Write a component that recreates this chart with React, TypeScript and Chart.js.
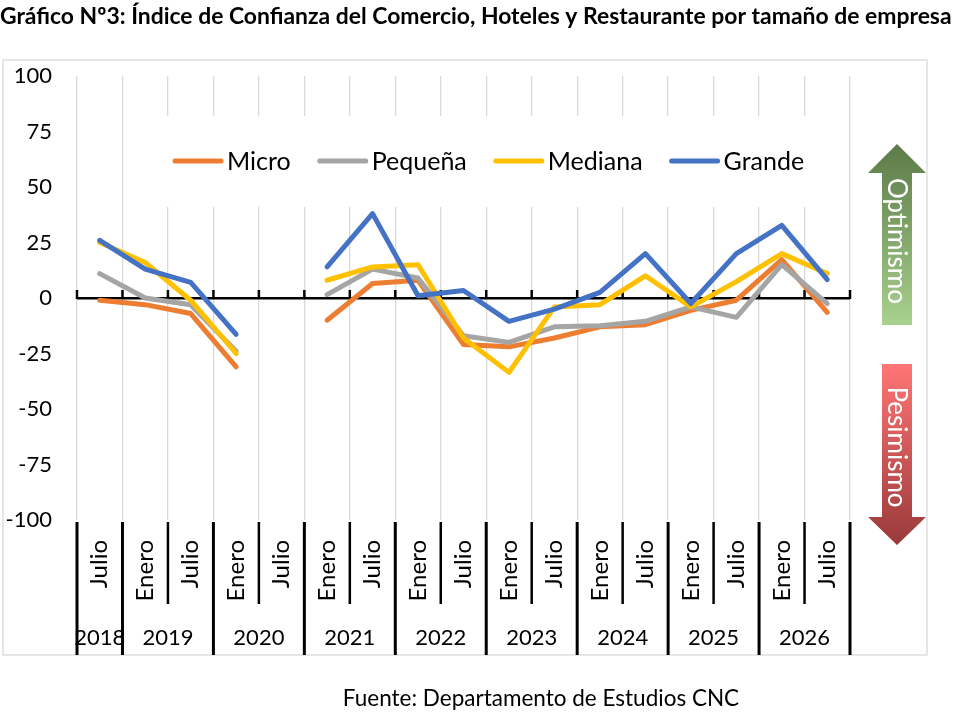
import { useEffect, useRef } from 'react'
import { Chart, registerables, Plugin } from 'chart.js'

Chart.register(...registerables)

const titulo = 'Gráfico Nº3: Índice de Confianza del Comercio, Hoteles y Restaurante por tamaño de empresa'
const fuente = 'Fuente: Departamento de Estudios CNC'

const meses = ['Julio', 'Enero', 'Julio', 'Enero', 'Julio', 'Enero', 'Julio', 'Enero', 'Julio',
  'Enero', 'Julio', 'Enero', 'Julio', 'Enero', 'Julio', 'Enero', 'Julio']
const anios = ['2018', '2019', '2019', '2020', '2020', '2021', '2021', '2022', '2022',
  '2023', '2023', '2024', '2024', '2025', '2025', '2026', '2026']

const micro = [-1, -3, -7, -31, null, -10, 6.5, 8, -21, -22, -18, -13, -12, -5.6, -1, 17.3, -6.5]
const pequena = [11, 0, -3, -24, null, 1.5, 13, 9, -17, -20, -13, -12.5, -10.5, -4, -8.7, 15, -2.5]
const mediana = [25, 16, -1, -25, null, 8, 14, 15, -18, -33.5, -4, -3, 10, -4, 7.4, 20, 11]
const grande = [26, 13, 7, -16.4, null, 14, 38, 1, 3.4, -10.5, -5, 2.5, 20, -2.5, 20, 32.7, 8.3]

const nombres = ['Micro', 'Pequeña', 'Mediana', 'Grande']
const colores = ['#ED7D31', '#A5A5A5', '#FFC000', '#4472C4']
const series = [micro, pequena, mediana, grande]

const FONT = 'Lato, "Open Sans", sans-serif'

// title, source, frame, legend, arrows and the two-level category axis
const decoracion: Plugin<'line'> = {
  id: 'decoracion',
  beforeDatasetsDraw(chart) {
    const { ctx, chartArea, scales } = chart
    const x = scales.x
    const y = scales.y
    const y0 = y.getPixelForValue(0)
    const half = (x.getPixelForValue(1) - x.getPixelForValue(0)) / 2

    // small ticks on the zero line
    ctx.save()
    ctx.strokeStyle = '#000'
    ctx.lineWidth = 2.5
    for (let i = 0; i <= meses.length; i++) {
      const px = x.getPixelForValue(0) - half + i * half * 2
      ctx.beginPath()
      ctx.moveTo(px, y0 + 1)
      ctx.lineTo(px, y0 - 8)
      ctx.stroke()
    }

    // legend inside the plot
    ctx.font = `25px ${FONT}`
    const widths = nombres.map((n) => ctx.measureText(n).width)
    const total = widths.reduce((a, b) => a + b, 0) + nombres.length * 54 + (nombres.length - 1) * 27
    const startX = chartArea.left + 96
    const ly = chartArea.top + 85
    ctx.fillStyle = '#fff'
    ctx.fillRect(startX - 22, chartArea.top + 40, total + 44, 91)
    let cx = startX
    ctx.textBaseline = 'middle'
    ctx.lineCap = 'round'
    nombres.forEach((n, i) => {
      ctx.strokeStyle = colores[i]
      ctx.lineWidth = 5
      ctx.beginPath()
      ctx.moveTo(cx + 2, ly)
      ctx.lineTo(cx + 48, ly)
      ctx.stroke()
      ctx.fillStyle = '#000'
      ctx.fillText(n, cx + 54, ly + 1)
      cx += 54 + widths[i] + 27
    })
    ctx.restore()
  },
  afterDraw(chart) {
    const { ctx, chartArea, scales } = chart
    const x = scales.x
    const half = (x.getPixelForValue(1) - x.getPixelForValue(0)) / 2
    const axisTop = chartArea.bottom + 2
    ctx.save()

    // frame
    ctx.strokeStyle = '#d9d9d9'
    ctx.lineWidth = 1.3
    ctx.strokeRect(3, 60, 924, 595)

    // separators and year labels
    ctx.strokeStyle = '#000'
    for (let i = 0; i <= meses.length; i++) {
      const px = x.getPixelForValue(i) - half
      const newYear = i === 0 || i === meses.length || anios[i] !== anios[i - 1]
      ctx.lineWidth = newYear ? 3 : 2.5
      ctx.beginPath()
      ctx.moveTo(px, axisTop)
      ctx.lineTo(px, newYear ? 655 : 604)
      ctx.stroke()
    }
    ctx.fillStyle = '#000'
    ctx.font = `22px ${FONT}`
    ctx.textAlign = 'center'
    ctx.textBaseline = 'middle'
    let s = 0
    for (let i = 1; i <= anios.length; i++) {
      if (i === anios.length || anios[i] !== anios[s]) {
        const mid = (x.getPixelForValue(s) + x.getPixelForValue(i - 1)) / 2
        ctx.fillText(anios[s], mid, 638)
        s = i
      }
    }

    // title (fitted to the page width) and source
    ctx.textAlign = 'left'
    ctx.font = `bold 20px ${FONT}`
    const tsize = 20 * 952 / ctx.measureText(titulo).width
    ctx.font = `bold ${tsize}px ${FONT}`
    ctx.fillText(titulo, 0, 17)
    ctx.textAlign = 'center'
    ctx.font = `22.5px ${FONT}`
    ctx.fillText(fuente, chartArea.left + 464, 699)

    // arrows
    const ax = chartArea.right + 47
    const drawArrow = (tip: number, base: number, end: number, top: string, bottom: string, label: string, ty: number) => {
      const g = ctx.createLinearGradient(0, Math.min(tip, end), 0, Math.max(tip, end))
      g.addColorStop(0, top)
      g.addColorStop(1, bottom)
      ctx.fillStyle = g
      ctx.beginPath()
      ctx.moveTo(ax, tip)
      ctx.lineTo(ax + 29, base)
      ctx.lineTo(ax + 15, base)
      ctx.lineTo(ax + 15, end)
      ctx.lineTo(ax - 15, end)
      ctx.lineTo(ax - 15, base)
      ctx.lineTo(ax - 29, base)
      ctx.closePath()
      ctx.fill()
      ctx.save()
      ctx.translate(ax, ty)
      ctx.rotate(Math.PI / 2)
      ctx.fillStyle = '#fff'
      ctx.font = `26px ${FONT}`
      ctx.textAlign = 'center'
      ctx.textBaseline = 'middle'
      ctx.fillText(label, 0, 1)
      ctx.restore()
    }
    drawArrow(144, 173, 325, '#5b7a48', '#a9d18e', 'Optimismo', 241)
    drawArrow(545, 517, 364, '#ff7575', '#9a3a3a', 'Pesimismo', 447)
    ctx.restore()
  },
}

export default function App() {
  const canvasRef = useRef<HTMLCanvasElement>(null)

  useEffect(() => {
    if (!canvasRef.current) return
    document.body.style.margin = '0'

    const chart = new Chart(canvasRef.current, {
      type: 'line',
      data: {
        labels: meses,
        datasets: series.map((data, i) => ({
          label: nombres[i],
          data,
          borderColor: colores[i],
          backgroundColor: colores[i],
          borderWidth: 5,
          borderCapStyle: 'round' as const,
          borderJoinStyle: 'round' as const,
          pointRadius: 0,
          spanGaps: false,
          order: series.length - i,
        })),
      },
      options: {
        responsive: true,
        maintainAspectRatio: false,
        animation: false,
        layout: { padding: { top: 76, right: 106, left: 0, bottom: 0 } },
        plugins: {
          legend: { display: false },
          title: { display: false },
          tooltip: { enabled: false },
        },
        scales: {
          x: {
            offset: true,
            afterFit: (scale) => { scale.height = 198 },
            border: { display: false },
            grid: {
              offset: true,
              color: '#d9d9d9',
              lineWidth: 1.3,
              drawTicks: false,
              tickLength: 0,
            },
            ticks: {
              autoSkip: false,
              minRotation: 90,
              maxRotation: 90,
              padding: 20,
              color: '#000',
              font: { family: FONT, size: 24 },
            },
          },
          y: {
            min: -100,
            max: 100,
            afterFit: (scale) => { scale.width = 77 },
            border: { display: false },
            grid: {
              drawTicks: false,
              color: (c) => (c.tick && c.tick.value === 0 ? '#000' : 'rgba(0,0,0,0)'),
              lineWidth: 2.5,
            },
            ticks: {
              stepSize: 25,
              padding: 25,
              color: '#000',
              font: { family: FONT, size: 22 },
            },
          },
        },
      },
      plugins: [decoracion],
    })

    return () => chart.destroy()
  }, [])

  return (
    <div style={{ width: 956, height: 718, position: 'relative' }}>
      <canvas ref={canvasRef}></canvas>
    </div>
  )
}
